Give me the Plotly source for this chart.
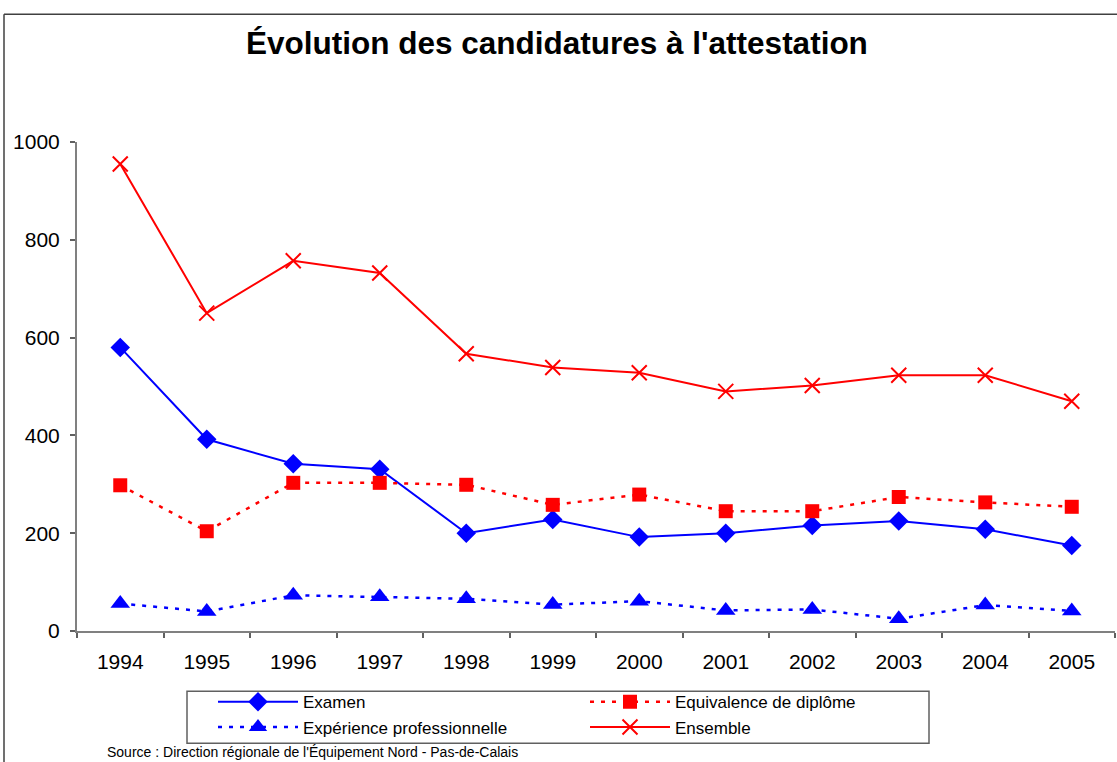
import plotly.graph_objects as go

years = ["1994", "1995", "1996", "1997", "1998", "1999", "2000", "2001", "2002", "2003", "2004", "2005"]
examen = [580, 392, 342, 331, 200, 228, 192, 200, 216, 225, 208, 175]
equivalence = [298, 204, 303, 303, 299, 258, 279, 245, 245, 274, 263, 254]
experience = [56, 40, 73, 70, 66, 54, 61, 42, 44, 25, 53, 41]
ensemble = [955, 650, 757, 732, 567, 539, 528, 490, 502, 523, 523, 470]

series_names = ["Examen", "Equivalence de diplôme", "Expérience professionnelle", "Ensemble"]
title_text = "Évolution des candidatures à l'attestation"
source_text = "Source : Direction régionale de l'Équipement Nord - Pas-de-Calais"

BLUE = "#0000FF"
RED = "#FF0000"
DASH = "4px,7px"

fig = go.Figure()
fig.add_trace(go.Scatter(
    x=years, y=examen, name=series_names[0], mode="lines+markers",
    line=dict(color=BLUE, width=2),
    marker=dict(symbol="diamond", size=15, color=BLUE)))
fig.add_trace(go.Scatter(
    x=years, y=equivalence, name=series_names[1], mode="lines+markers",
    line=dict(color=RED, width=2.5, dash=DASH),
    marker=dict(symbol="square", size=14, color=RED)))
fig.add_trace(go.Scatter(
    x=years, y=experience, name=series_names[2], mode="lines+markers",
    line=dict(color=BLUE, width=2.5, dash=DASH),
    marker=dict(symbol="triangle-up", size=17, color=BLUE)))
fig.add_trace(go.Scatter(
    x=years, y=ensemble, name=series_names[3], mode="lines+markers",
    line=dict(color=RED, width=2),
    marker=dict(symbol="x-thin", size=15, color=RED, line=dict(color=RED, width=2))))

FONT = "Liberation Sans, Arial, sans-serif"

# pixel helpers for decoration (paper coordinates)
W, H = 1117, 762
L, R, T, B = 77, 2, 141.7, 131.3
PW = W - L - R
PH = H - T - B
def px(x):
    return (x - L) / PW
def py(y):
    return (H - B - y) / PH

fig.update_layout(
    width=W, height=H,
    margin=dict(l=L, r=R, t=T, b=B, autoexpand=False),
    paper_bgcolor="white", plot_bgcolor="white",
    font=dict(family=FONT, color="black"),
    showlegend=True,
    legend=dict(
        orientation="h", x=px(213), y=py(684), xanchor="left", yanchor="top",
        borderwidth=0, bgcolor="rgba(0,0,0,0)",
        font=dict(size=17, family=FONT),
        entrywidth=277, entrywidthmode="pixels",
        itemwidth=80, tracegroupgap=0,
        traceorder="normal",
    ),
    xaxis=dict(
        type="category", range=[-0.5, 11.5],
        showline=True, linecolor="#808080", linewidth=2,
        ticks="outside", tickson="boundaries", ticklen=5, tickcolor="#606060", tickwidth=1.5,
        showgrid=False, zeroline=False,
        tickfont=dict(size=21, family=FONT),
        ticklabelstandoff=11,
    ),
    yaxis=dict(
        range=[0, 1000], tickvals=[0, 200, 400, 600, 800, 1000],
        showline=True, linecolor="#808080", linewidth=2,
        ticks="outside", ticklen=5, tickcolor="#606060", tickwidth=1.5,
        showgrid=False, zeroline=False,
        tickfont=dict(size=21, family=FONT),
        ticklabelstandoff=6,
    ),
    annotations=[
        dict(text="<b>" + title_text + "</b>", xref="paper", yref="paper",
             x=px(557), y=py(43), xanchor="center", yanchor="middle", showarrow=False,
             font=dict(size=31.5, family=FONT, color="black")),
        dict(text=source_text, xref="paper", yref="paper",
             x=px(105), y=py(752), xanchor="left", yanchor="middle", showarrow=False,
             font=dict(size=14, family=FONT, color="black")),
    ],
    shapes=[
        dict(type="line", xref="paper", yref="paper", x0=px(4), x1=px(4), y0=py(14), y1=py(770),
             line=dict(color="#404040", width=1.5)),
        dict(type="line", xref="paper", yref="paper", x0=px(4), x1=px(1125), y0=py(14), y1=py(14),
             line=dict(color="#404040", width=1.5)),
        dict(type="rect", xref="paper", yref="paper", x0=px(187), x1=px(929), y0=py(691), y1=py(743),
             line=dict(color="#606060", width=1.5), fillcolor="rgba(0,0,0,0)", layer="below"),
    ],
)

fig.write_html(
    "out.html",
    config={"displayModeBar": False},
    post_script="document.body.style.margin='0';document.body.style.overflow='hidden';",
)
